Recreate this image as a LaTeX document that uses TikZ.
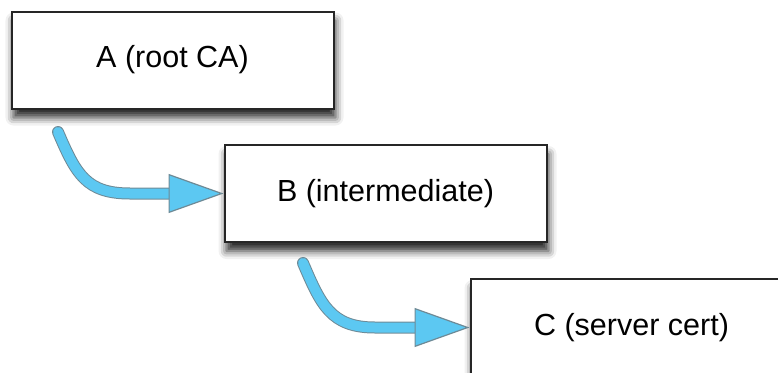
\documentclass[tikz,border=0pt]{standalone}
\usepackage{fontspec}
\setmainfont{Liberation Sans}
\usetikzlibrary{arrows.meta,shadows.blur}
\definecolor{arrowblue}{HTML}{5CC8F2}
\definecolor{arrowedge}{HTML}{6E8A96}
\begin{document}
\begin{tikzpicture}[x=1pt,y=1pt,
  certbox/.style={draw=black!85, line width=2pt, fill=white,
    minimum width=322pt, minimum height=97pt, inner sep=0pt,
    font=\fontsize{30.5}{36}\selectfont,
    blur shadow={shadow xshift=2pt, shadow yshift=-9pt, shadow blur radius=8pt, shadow opacity=85}},
  flowedge/.style={arrowedge, line width=12pt, line cap=round, shorten >=45pt},
  flowarrow/.style={arrowblue, line width=10pt, line cap=round,
    -{Triangle[length=55pt, width=39pt, line width=1.2pt, fill=arrowblue, color=arrowedge]}}]
\useasboundingbox (0,0) rectangle (778,-372);
\clip (0,0) rectangle (778,-372);
\node[certbox] (A) at (172.5,-60) {A (root CA)};
\node[certbox] (B) at (385.5,-193.5) {B (intermediate)};
\node[certbox] (C) at (631.5,-327.5) {C (server cert)};
\coordinate (s1) at (58,-132);
\coordinate (s2) at (303,-263);
\draw[flowedge] (s1) .. controls (76,-174) and (86,-193.5) .. (130,-193.5) -- (B.west);
\draw[flowarrow] (s1) .. controls (76,-174) and (86,-193.5) .. (130,-193.5) -- (B.west);
\draw[flowedge] (s2) .. controls (321,-305) and (331,-327.5) .. (375,-327.5) -- (C.west);
\draw[flowarrow] (s2) .. controls (321,-305) and (331,-327.5) .. (375,-327.5) -- (C.west);
\end{tikzpicture}
\end{document}
